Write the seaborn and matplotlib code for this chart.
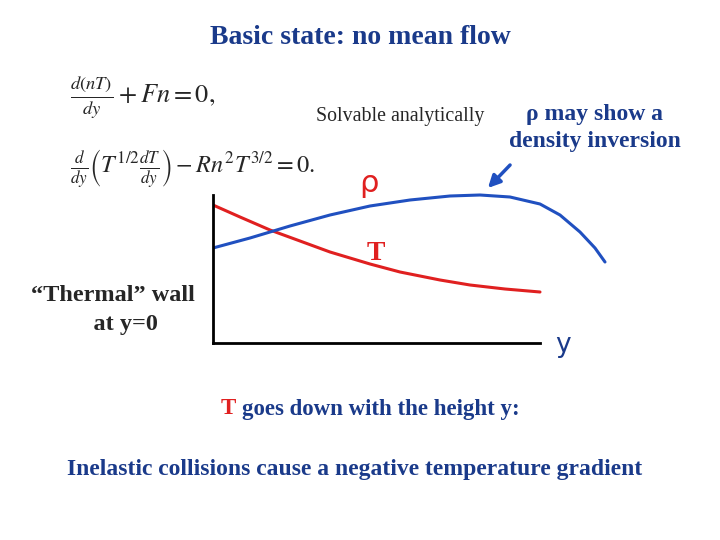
import matplotlib
matplotlib.use("Agg")
import matplotlib.pyplot as plt
import seaborn as sns
import pandas as pd

sns.set_style("white")
plt.rcParams['font.family'] = ['Liberation Serif', 'DejaVu Serif']
plt.rcParams['mathtext.fontset'] = 'stix'

# height y and profiles (arbitrary units)
y_T = [0, 27, 57, 87, 117, 157, 187, 227, 257, 292, 327]
T_vals = [138, 126, 113, 102, 91, 79, 71, 63, 58, 54, 51]
y_rho = [0, 37, 77, 117, 157, 197, 237, 267, 297, 327, 347, 367, 382, 392]
rho_vals = [95, 105, 117, 128, 137, 143, 147, 148, 146, 139, 128, 111, 95, 81]

fig = plt.figure(figsize=(7.2, 5.4), dpi=100)
ax = fig.add_axes([213/720, 1-343/540, 397/720, 153/540])
sns.lineplot(data=pd.DataFrame({"y": y_T, "v": T_vals}), x="y", y="v", ax=ax, color="#e02020", lw=2.2)
sns.lineplot(data=pd.DataFrame({"y": y_rho, "v": rho_vals}), x="y", y="v", ax=ax, color="#2050c0", lw=2.2)
ax.set_xlim(0, 397)
ax.set_ylim(0, 153)
ax.set_xticks([]); ax.set_yticks([])
ax.set_xlabel(""); ax.set_ylabel("")
ax.patch.set_alpha(0)
for s in ["top", "right"]:
    ax.spines[s].set_visible(False)
for s in ["left", "bottom"]:
    ax.spines[s].set_color("black")
    ax.spines[s].set_linewidth(2)
ax.spines["bottom"].set_bounds(0, 327)
ax.spines["left"].set_bounds(0, 148)

navy = "#1a3a8a"
fig.text(360/720, 1-37/540, "Basic state: no mean flow", ha="center", va="center",
         fontsize=20, fontweight="bold", color=navy)
fig.text(70/720, 1-97/540, r"$\frac{d(nT)}{dy}+Fn=0,$", fontsize=19, va="center")
fig.text(70/720, 1-168/540, r"$\frac{d}{dy}\left(T^{1/2}\frac{dT}{dy}\right)-Rn^2T^{3/2}=0.$",
         fontsize=17.5, va="center")
fig.text(400/720, 1-117/540, "Solvable analytically", ha="center", va="center", fontsize=14.3)
fig.text(595/720, 1-128/540, "ρ may show a\ndensity inversion", ha="center", va="center",
         fontsize=17, fontweight="bold", color=navy, linespacing=1.35)
fig.text(369/720, 1-183/540, "ρ", ha="center", va="center", fontsize=22,
         color="#e02020", family=["DejaVu Sans"])
fig.text(376/720, 1-254/540, "T", ha="center", va="center", fontsize=20,
         fontweight="bold", color="#e02020")
fig.text(563/720, 1-345/540, "y", ha="center", va="center", fontsize=19,
         color=navy, family=["DejaVu Sans"])
fig.text(113/720, 1-310/540, "\u201cThermal\u201d wall\n    at y=0", ha="center", va="center",
         fontsize=17.5, fontweight="bold", linespacing=1.45)
fig.text(221/720, 1-409/540, "T", ha="left", va="center", fontsize=16.5, fontweight="bold", color="#e02020")
fig.text(242/720, 1-409/540, "goes down with the height y:", ha="left", va="center",
         fontsize=16.5, fontweight="bold", color=navy)
fig.text(355/720, 1-469/540, "Inelastic collisions cause a negative temperature gradient",
         ha="center", va="center", fontsize=17, fontweight="bold", color=navy)
fig.add_artist(matplotlib.patches.FancyArrowPatch(
    (512/720, 1-163/540), (486/720, 1-190/540), transform=fig.transFigure,
    arrowstyle="-|>", mutation_scale=18, color="#2050c0", lw=2.5))
fig.savefig("out.png", dpi=100)
